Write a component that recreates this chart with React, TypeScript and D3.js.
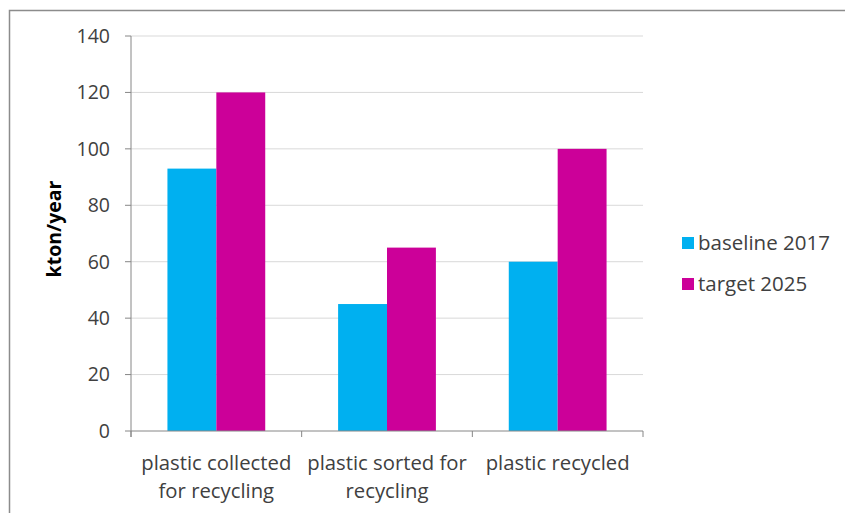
import React from "react";
import * as d3 from "d3";

const categories = ["plastic collected|for recycling", "plastic sorted for|recycling", "plastic recycled"];
const seriesNames = ["baseline 2017", "target 2025"];
const baseline2017 = [93, 45, 60];
const target2025 = [120, 65, 100];
const yTicks = [0, 20, 40, 60, 80, 100, 120, 140];
const colors = ["#00B0F0", "#CC0099"];

const W = 845, H = 513;
const left = 131, right = 643, top = 36, bottom = 431;
const FONT = "'Open Sans', sans-serif";

export default function App() {
  const x = d3.scaleBand<number>().domain(d3.range(categories.length)).range([left, right]).paddingInner(0.427).paddingOuter(0.2135);
  const x1 = d3.scaleBand<number>().domain([0, 1]).range([0, x.bandwidth()]);
  const y = d3.scaleLinear().domain([0, 140]).range([bottom, top]);
  const series = [baseline2017, target2025];
  const step = (right - left) / categories.length;
  return (
    <svg width={W} height={H} style={{ position: "absolute", left: 0, top: 0 }}>
      <rect x={0} y={0} width={W} height={H} fill="#fff" />
      <rect x={9.5} y={10.5} width={W} height={H} fill="#fff" stroke="#8c8c8c" strokeWidth={1.5} />
      {yTicks.map((t) => (
        <g key={t}>
          {t > 0 && <line x1={left} x2={right} y1={y(t)} y2={y(t)} stroke="#d9d9d9" strokeWidth={1} />}
          <line x1={left - 6} x2={left} y1={y(t)} y2={y(t)} stroke="#868686" />
          <text x={left - 21} y={y(t)} dy="0.35em" textAnchor="end" fontFamily={FONT} fontSize={19.5} fill="#404040">{t}</text>
        </g>
      ))}
      {series.map((vals, s) =>
        vals.map((v, i) => (
          <rect key={`${s}-${i}`} x={(x(i) as number) + (x1(s) as number)} y={y(v)} width={x1.bandwidth()} height={y(0) - y(v)} fill={colors[s]} />
        ))
      )}
      <line x1={left} x2={left} y1={top} y2={bottom + 6} stroke="#868686" />
      <line x1={left} x2={right} y1={bottom} y2={bottom} stroke="#868686" />
      {d3.range(categories.length + 1).map((i) => (
        <line key={i} x1={left + i * step} x2={left + i * step} y1={bottom} y2={bottom + 6} stroke="#868686" />
      ))}
      {categories.map((c, i) => (
        <text key={c} textAnchor="middle" fontFamily={FONT} fontSize={20.3} fill="#404040">
          {c.split("|").map((line, j) => (
            <tspan key={j} x={left + (i + 0.5) * step} y={470 + j * 28}>{line}</tspan>
          ))}
        </text>
      ))}
      <text transform={`translate(61,229) rotate(-90)`} textAnchor="middle" fontFamily={FONT} fontSize={19.5} fontWeight="bold" fill="#000">kton/year</text>
      {seriesNames.map((n, s) => (
        <g key={n}>
          <rect x={682} y={237 + s * 41} width={12} height={12} fill={colors[s]} />
          <text x={698} y={243 + s * 41} dy="0.35em" fontFamily={FONT} fontSize={20.5} fill="#404040">{n}</text>
        </g>
      ))}
    </svg>
  );
}
